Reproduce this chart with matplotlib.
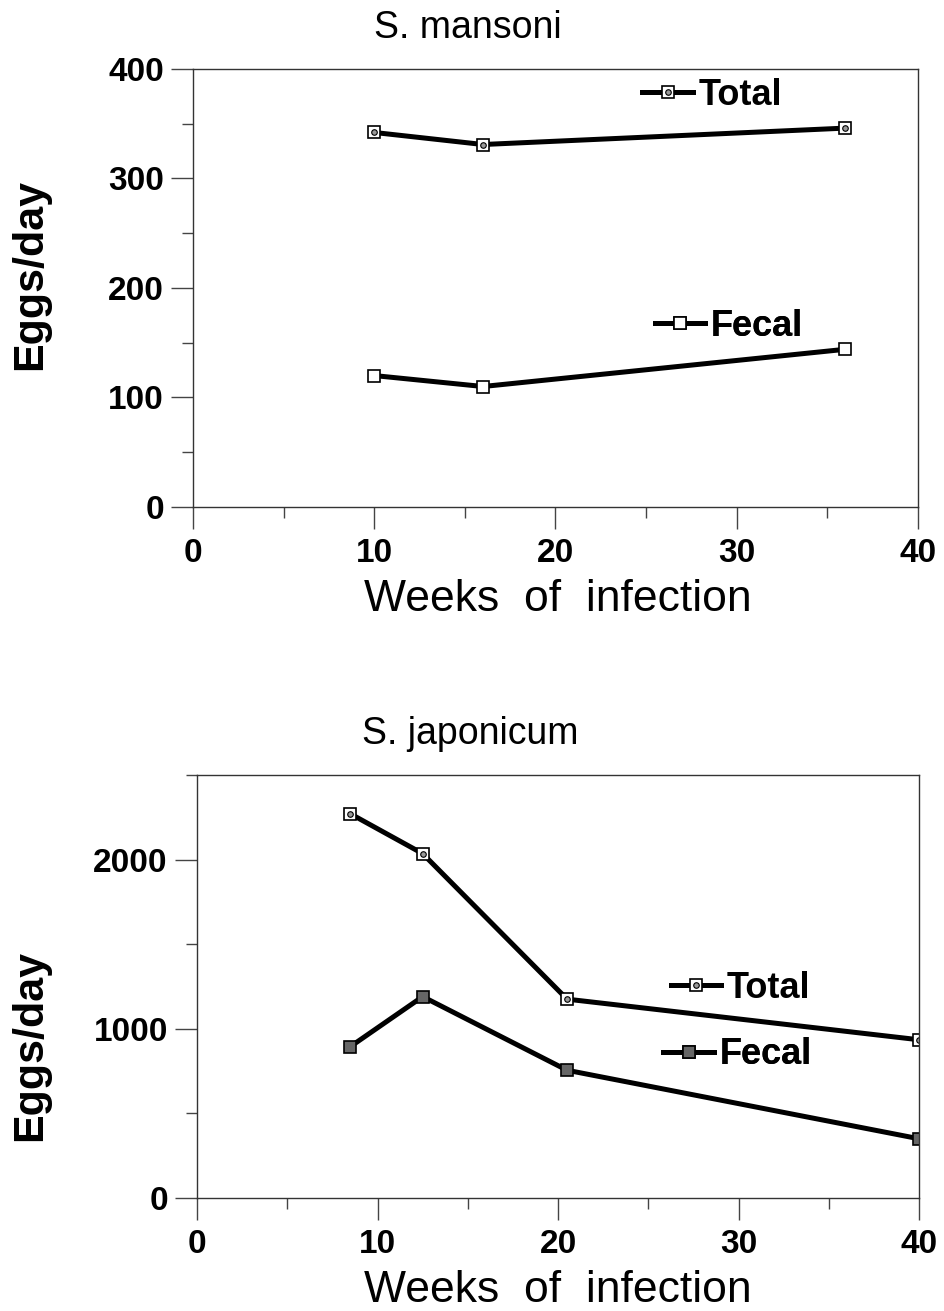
#!/usr/bin/env python3
import matplotlib
matplotlib.use("Agg")
import matplotlib.pyplot as plt
from matplotlib.ticker import MultipleLocator

# S. mansoni
mansoni_weeks = [10, 16, 36]
mansoni_total = [342, 331, 346]
mansoni_fecal = [120, 110, 144]

# S. japonicum
japonicum_weeks = [8.5, 12.5, 20.5, 40]
japonicum_total = [2270, 2035, 1175, 935]
japonicum_fecal = [895, 1190, 755, 350]

plt.rcParams['font.family'] = ['Liberation Sans', 'DejaVu Sans']

LW = 3.6
MS = 9


def style_axes(ax, ymax, ymajor, yminor):
    ax.set_xlim(0, 40)
    ax.set_ylim(0, ymax)
    ax.xaxis.set_major_locator(MultipleLocator(10))
    ax.xaxis.set_minor_locator(MultipleLocator(5))
    ax.yaxis.set_major_locator(MultipleLocator(ymajor))
    ax.yaxis.set_minor_locator(MultipleLocator(yminor))
    ax.tick_params(axis='both', which='major', direction='out', length=16,
                   width=1, color='#444444', labelsize=24)
    ax.tick_params(axis='both', which='minor', direction='out', length=8,
                   width=1, color='#444444')
    ax.tick_params(axis='y', which='major', pad=5)
    ax.tick_params(axis='x', which='major', pad=6)
    for lab in ax.get_xticklabels() + ax.get_yticklabels():
        lab.set_fontweight('bold')
    for s in ax.spines.values():
        s.set_linewidth(1.0)
        s.set_color('#333333')
    ax.set_xlabel("Weeks  of  infection", fontsize=32)
    ax.set_ylabel("Eggs/day", fontsize=31, fontweight='bold')


def add_entry(ax, handle, label, x, y):
    leg = ax.legend([handle], [label], loc='center left', bbox_to_anchor=(x, y),
                    frameon=False, borderpad=0, borderaxespad=0,
                    handlelength=1.4, handletextpad=0.15,
                    prop={'size': 26, 'weight': 'bold'})
    ax.add_artist(leg)


fig = plt.figure(figsize=(9.45, 13.11), dpi=100)

# top panel
ax1 = fig.add_axes([0.2042, 0.6133, 0.7672, 0.3341])
l1, = ax1.plot(mansoni_weeks, mansoni_total, color='black', lw=LW, marker='s',
               ms=MS, mfc='white', mec='black', mew=1.2)
d1, = ax1.plot(mansoni_weeks, mansoni_total, ls='none', marker='o', ms=4,
               mfc='#999999', mec='black', mew=0.8)
l2, = ax1.plot(mansoni_weeks, mansoni_fecal, color='black', lw=LW, marker='s',
               ms=MS, mfc='white', mec='black', mew=1.2)
style_axes(ax1, 400, 100, 50)
ax1.set_title("S. mansoni", fontsize=27, x=0.379, pad=22)
ax1.xaxis.set_label_coords(0.503, -0.165)
ax1.yaxis.set_label_coords(-0.197, 0.53)
add_entry(ax1, (l1, d1), "Total", 0.62, 0.94)
add_entry(ax1, l2, "Fecal", 0.637, 0.413)

# bottom panel
ax2 = fig.add_axes([0.2085, 0.0862, 0.764, 0.3227])
l3, = ax2.plot(japonicum_weeks, japonicum_total, color='black', lw=LW, marker='s',
               ms=MS, mfc='white', mec='black', mew=1.2)
d3, = ax2.plot(japonicum_weeks, japonicum_total, ls='none', marker='o', ms=4,
               mfc='#999999', mec='black', mew=0.8)
l4, = ax2.plot(japonicum_weeks, japonicum_fecal, color='black', lw=LW, marker='s',
               ms=MS, mfc='#666666', mec='black', mew=1.2)
style_axes(ax2, 2500, 1000, 500)
ax2.set_title("S. japonicum", fontsize=27, x=0.378, pad=22)
ax2.xaxis.set_label_coords(0.5, -0.17)
ax2.yaxis.set_label_coords(-0.204, 0.36)
add_entry(ax2, (l3, d3), "Total", 0.656, 0.496)
add_entry(ax2, l4, "Fecal", 0.646, 0.338)

fig.savefig("out.png", dpi=100)
